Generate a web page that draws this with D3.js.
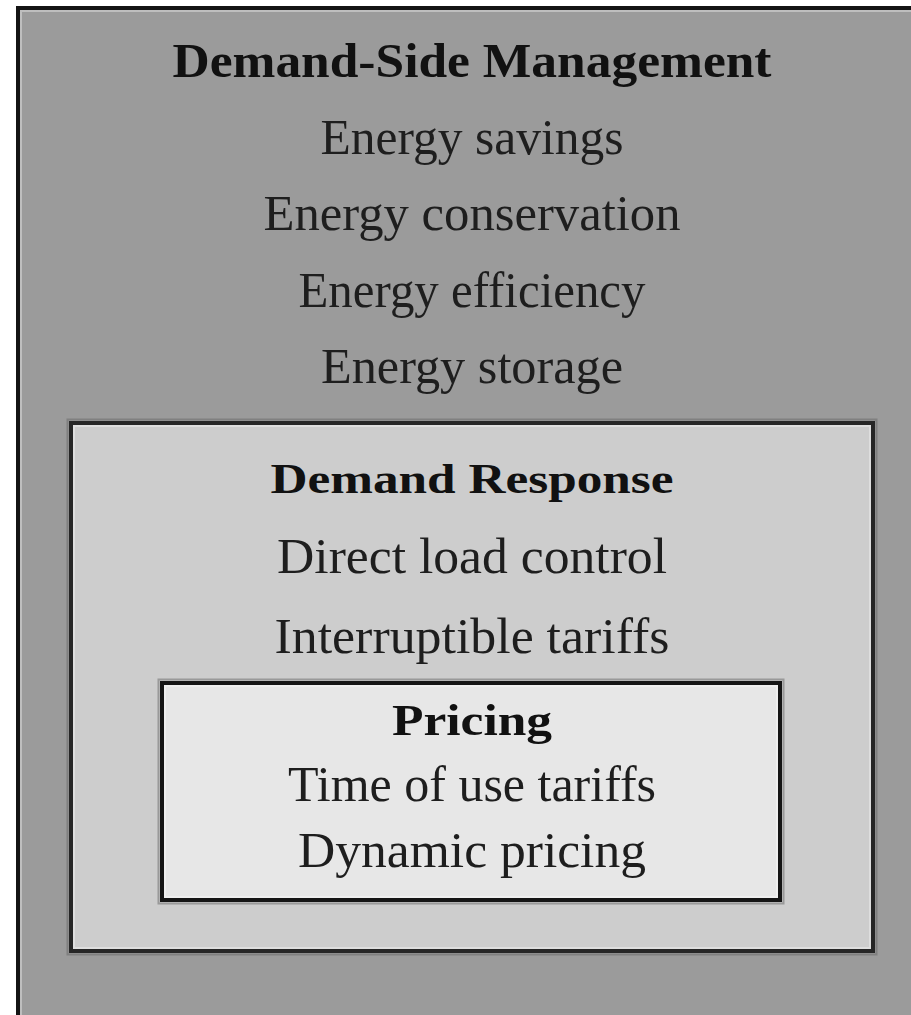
<!DOCTYPE html>
<html>
<head>
<meta charset="utf-8">
<script src="https://cdn.jsdelivr.net/npm/d3@7.9.0/dist/d3.min.js"></script>
<style>
  html, body { margin: 0; padding: 0; background: #fff; }
  svg { display: block; }
  text { font-family: "Liberation Serif", "DejaVu Serif", serif; }
</style>
</head>
<body>
<div id="chart"></div>
<script>
// nested levels, outermost first
const titles = ["Demand-Side Management", "Demand Response", "Pricing"];
const dsmItems = ["Energy savings", "Energy conservation", "Energy efficiency", "Energy storage"];
const drItems = ["Direct load control", "Interruptible tariffs"];
const pricingItems = ["Time of use tariffs", "Dynamic pricing"];
const levelItems = [dsmItems, drItems, pricingItems];

// layout of each box (pixels in the picture)
const boxes = [
  { x0: 18, y0: 8, x1: 930, y1: 1040, fill: "#9b9b9b", stroke: "#141414", firstBase: 77, step: 76.5, titleSize: 48, size: 50 },
  { x0: 71, y0: 423, x1: 873, y1: 951, fill: "#cdcdcd", stroke: "#262626", firstBase: 493, step: 80, titleSize: 43, size: 51 },
  { x0: 162, y0: 683, x1: 780, y1: 900, fill: "#e7e7e7", stroke: "#151515", firstBase: 735, step: 66, titleSize: 45, size: 50 }
];

// measured text widths, so the glyph runs match the picture
const textWidths = {
  "Demand-Side Management": 599,
  "Energy savings": 303,
  "Energy conservation": 417,
  "Energy efficiency": 347,
  "Energy storage": 302,
  "Demand Response": 403,
  "Direct load control": 390,
  "Interruptible tariffs": 395,
  "Pricing": 160,
  "Time of use tariffs": 368,
  "Dynamic pricing": 348
};

const width = 911;
const height = 1015;
const centerX = (boxes[1].x0 + boxes[1].x1) / 2;

const svg = d3.select("#chart")
  .append("svg")
  .attr("width", width)
  .attr("height", height)
  .attr("viewBox", `0 0 ${width} ${height}`);

const levels = svg.selectAll("g.level")
  .data(titles.map((t, i) => ({ title: t, items: levelItems[i], box: boxes[i] })))
  .join("g")
  .attr("class", "level");

// box with a soft bevel inside the dark border
levels.append("rect")
  .attr("x", d => d.box.x0)
  .attr("y", d => d.box.y0)
  .attr("width", d => d.box.x1 - d.box.x0)
  .attr("height", d => d.box.y1 - d.box.y0)
  .attr("fill", d => d.box.fill)
  .attr("stroke", d => d.box.stroke)
  .attr("stroke-width", 4);

levels.append("rect")
  .attr("x", d => d.box.x0 - 3.5)
  .attr("y", d => d.box.y0 - 3.5)
  .attr("width", d => d.box.x1 - d.box.x0 + 7)
  .attr("height", d => d.box.y1 - d.box.y0 + 7)
  .attr("fill", "none")
  .attr("stroke", "#666")
  .attr("stroke-opacity", (d, i) => i === 0 ? 0 : 0.5)
  .attr("stroke-width", 2);

levels.append("rect")
  .attr("x", d => d.box.x0 + 3)
  .attr("y", d => d.box.y0 + 3)
  .attr("width", d => d.box.x1 - d.box.x0 - 6)
  .attr("height", d => d.box.y1 - d.box.y0 - 6)
  .attr("fill", "none")
  .attr("stroke", "#fff")
  .attr("stroke-opacity", 0.35)
  .attr("stroke-width", 2);

levels.each(function(d) {
  const g = d3.select(this);
  const lines = [d.title, ...d.items];

  const y = d3.scaleLinear()
    .domain([0, 1])
    .range([d.box.firstBase, d.box.firstBase + d.box.step]);

  g.selectAll("text")
    .data(lines)
    .join("text")
    .attr("x", centerX)
    .attr("y", (t, i) => y(i))
    .attr("text-anchor", "middle")
    .attr("font-size", (t, i) => i === 0 ? d.box.titleSize : d.box.size)
    .attr("font-weight", (t, i) => i === 0 ? "bold" : "normal")
    .attr("fill", (t, i) => i === 0 ? "#111" : "#1e1e1e")
    .attr("textLength", t => textWidths[t])
    .attr("lengthAdjust", "spacingAndGlyphs")
    .text(t => t);
});
</script>
</body>
</html>
